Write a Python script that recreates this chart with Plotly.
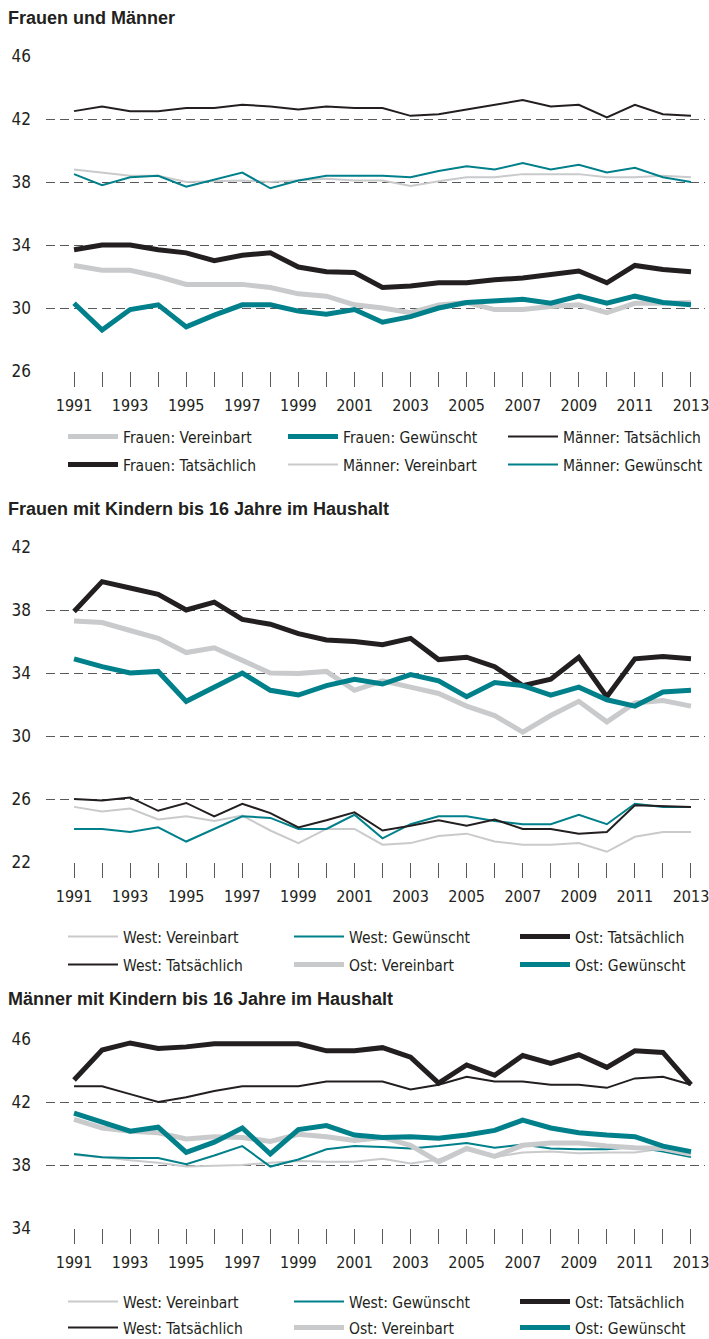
import plotly.graph_objects as go

W, H = 709, 1339

years = list(range(1991, 2014))
year_ticktext = [str(y) if (y - 1991) % 2 == 0 else "" for y in years]

# ---- Panel 1: Frauen und Männer
p1_frauen_vereinbart = [32.7, 32.4, 32.4, 32.0, 31.5, 31.5, 31.5, 31.3, 30.9, 30.75, 30.2, 30.0, 29.7, 30.2, 30.35, 29.9, 29.9, 30.1, 30.2, 29.7, 30.3, 30.3, 30.35]
p1_frauen_gewuenscht = [30.3, 28.6, 29.9, 30.2, 28.8, 29.55, 30.2, 30.2, 29.8, 29.6, 29.9, 29.1, 29.45, 30.0, 30.35, 30.45, 30.55, 30.3, 30.75, 30.3, 30.75, 30.35, 30.2]
p1_frauen_tatsaechlich = [33.7, 34.0, 34.0, 33.7, 33.5, 33.0, 33.35, 33.5, 32.6, 32.3, 32.25, 31.3, 31.4, 31.6, 31.6, 31.8, 31.9, 32.15, 32.35, 31.6, 32.7, 32.45, 32.3]
p1_maenner_tatsaechlich = [42.5, 42.8, 42.5, 42.5, 42.7, 42.7, 42.9, 42.8, 42.6, 42.8, 42.7, 42.7, 42.2, 42.3, 42.6, 42.9, 43.2, 42.8, 42.9, 42.1, 42.9, 42.3, 42.2]
p1_maenner_vereinbart = [38.8, 38.6, 38.4, 38.4, 38.0, 38.05, 38.1, 38.0, 38.1, 38.2, 38.1, 38.1, 37.75, 38.05, 38.3, 38.3, 38.5, 38.5, 38.5, 38.3, 38.3, 38.4, 38.3]
p1_maenner_gewuenscht = [38.5, 37.8, 38.3, 38.4, 37.7, 38.15, 38.6, 37.6, 38.1, 38.4, 38.4, 38.4, 38.3, 38.7, 39.0, 38.8, 39.2, 38.8, 39.1, 38.6, 38.9, 38.3, 38.0]

# ---- Panel 2: Frauen mit Kindern bis 16 Jahre im Haushalt
p2_west_vereinbart = [25.5, 25.2, 25.4, 24.7, 24.9, 24.6, 24.95, 24.0, 23.2, 24.1, 24.1, 23.1, 23.2, 23.65, 23.8, 23.3, 23.1, 23.1, 23.2, 22.65, 23.6, 23.9, 23.9]
p2_west_gewuenscht = [24.1, 24.1, 23.9, 24.2, 23.3, 24.1, 24.9, 24.8, 24.1, 24.1, 25.0, 23.5, 24.4, 24.9, 24.9, 24.6, 24.4, 24.4, 25.0, 24.4, 25.7, 25.5, 25.5]
p2_west_tatsaechlich = [26.0, 25.9, 26.1, 25.25, 25.75, 24.9, 25.7, 25.1, 24.2, 24.65, 25.15, 24.0, 24.3, 24.65, 24.3, 24.7, 24.1, 24.1, 23.8, 23.9, 25.6, 25.55, 25.5]
p2_ost_tatsaechlich = [37.9, 39.8, 39.4, 39.0, 38.0, 38.5, 37.4, 37.1, 36.5, 36.1, 36.0, 35.8, 36.2, 34.85, 35.0, 34.4, 33.2, 33.6, 35.0, 32.5, 34.9, 35.05, 34.9]
p2_ost_vereinbart = [37.3, 37.2, 36.7, 36.2, 35.3, 35.6, 34.8, 34.0, 33.97, 34.1, 32.9, 33.5, 33.1, 32.7, 31.9, 31.3, 30.25, 31.3, 32.2, 30.9, 32.1, 32.25, 31.9]
p2_ost_gewuenscht = [34.9, 34.4, 34.0, 34.1, 32.2, 33.1, 34.0, 32.9, 32.6, 33.2, 33.6, 33.3, 33.9, 33.5, 32.5, 33.4, 33.2, 32.6, 33.1, 32.3, 31.9, 32.8, 32.9]

# ---- Panel 3: Männer mit Kindern bis 16 Jahre im Haushalt
p3_west_vereinbart = [38.65, 38.5, 38.3, 38.15, 37.9, 37.95, 38.0, 38.15, 38.25, 38.2, 38.2, 38.4, 38.1, 38.35, 38.95, 38.5, 38.8, 38.85, 38.75, 38.8, 38.8, 39.05, 38.7]
p3_west_gewuenscht = [38.7, 38.5, 38.45, 38.45, 38.05, 38.6, 39.2, 37.9, 38.35, 39.0, 39.2, 39.15, 39.05, 39.2, 39.4, 39.1, 39.3, 39.05, 39.0, 39.0, 39.15, 38.85, 38.5]
p3_west_tatsaechlich = [43.0, 43.0, 42.5, 42.0, 42.3, 42.7, 43.0, 43.0, 43.0, 43.3, 43.3, 43.3, 42.8, 43.1, 43.6, 43.3, 43.3, 43.1, 43.1, 42.9, 43.5, 43.6, 43.1]
p3_ost_tatsaechlich = [43.4, 45.3, 45.75, 45.4, 45.5, 45.7, 45.7, 45.7, 45.7, 45.25, 45.25, 45.45, 44.85, 43.2, 44.35, 43.7, 44.95, 44.45, 45.0, 44.2, 45.25, 45.15, 43.1]
p3_ost_vereinbart = [40.9, 40.35, 40.15, 40.05, 39.65, 39.8, 39.75, 39.5, 39.95, 39.8, 39.55, 39.75, 39.25, 38.2, 39.05, 38.55, 39.25, 39.4, 39.4, 39.2, 39.1, 39.05, 38.7]
p3_ost_gewuenscht = [41.3, 40.7, 40.15, 40.4, 38.8, 39.45, 40.35, 38.7, 40.25, 40.5, 39.9, 39.75, 39.8, 39.7, 39.9, 40.2, 40.85, 40.35, 40.05, 39.9, 39.8, 39.2, 38.85]

panel_titles = ["Frauen und Männer",
                "Frauen mit Kindern bis 16 Jahre im Haushalt",
                "Männer mit Kindern bis 16 Jahre im Haushalt"]
p1_yticks = [26, 30, 34, 38, 42, 46]
p2_yticks = [22, 26, 30, 34, 38, 42]
p3_yticks = [34, 38, 42, 46]

BLACK = "#231f20"
TEAL = "#00808a"
GREY = "#c9cacc"
GRID = "#58595b"
THICK, THIN = 5, 2
FONT = "DejaVu Sans Condensed, Liberation Sans Narrow, sans-serif"
TITLE_FONT = "Liberation Sans, Arial, sans-serif"

panels = [
    dict(series=[("Frauen: Vereinbart", p1_frauen_vereinbart, GREY, THICK, 0),
                 ("Frauen: Gewünscht", p1_frauen_gewuenscht, TEAL, THICK, 0),
                 ("Männer: Tatsächlich", p1_maenner_tatsaechlich, BLACK, THIN, 0),
                 ("Frauen: Tatsächlich", p1_frauen_tatsaechlich, BLACK, THICK, 1),
                 ("Männer: Vereinbart", p1_maenner_vereinbart, GREY, THIN, 1),
                 ("Männer: Gewünscht", p1_maenner_gewuenscht, TEAL, THIN, 1)],
         yr=[26, 46], yticks=p1_yticks, px=(56, 371), title_y=18,
         leg_y=(437, 465), leg_text_x=123, leg_step=220),
    dict(series=[("West: Vereinbart", p2_west_vereinbart, GREY, THIN, 0),
                 ("West: Gewünscht", p2_west_gewuenscht, TEAL, THIN, 0),
                 ("Ost: Tatsächlich", p2_ost_tatsaechlich, BLACK, THICK, 0),
                 ("West: Tatsächlich", p2_west_tatsaechlich, BLACK, THIN, 1),
                 ("Ost: Vereinbart", p2_ost_vereinbart, GREY, THICK, 1),
                 ("Ost: Gewünscht", p2_ost_gewuenscht, TEAL, THICK, 1)],
         yr=[22, 42], yticks=p2_yticks, px=(547, 862), title_y=509,
         leg_y=(937, 965), leg_text_x=123, leg_step=226),
    dict(series=[("West: Vereinbart", p3_west_vereinbart, GREY, THIN, 0),
                 ("West: Gewünscht", p3_west_gewuenscht, TEAL, THIN, 0),
                 ("Ost: Tatsächlich", p3_ost_tatsaechlich, BLACK, THICK, 0),
                 ("West: Tatsächlich", p3_west_tatsaechlich, BLACK, THIN, 1),
                 ("Ost: Vereinbart", p3_ost_vereinbart, GREY, THICK, 1),
                 ("Ost: Gewünscht", p3_ost_gewuenscht, TEAL, THICK, 1)],
         yr=[34, 46], yticks=p3_yticks, px=(1039, 1228), title_y=999,
         leg_y=(1302, 1328), leg_text_x=123, leg_step=226),
]


def fx(px):
    return px / W


def fy(py):
    return 1 - py / H


layout = dict(width=W, height=H, margin=dict(l=0, r=0, t=0, b=0, autoexpand=False),
              paper_bgcolor="white", plot_bgcolor="white",
              font=dict(family=FONT, size=15, color=BLACK), annotations=[])

X0, X1 = 46, 705
ITEMW = 50
TEXTGAP = ITEMW + 10
ITEMGAP = 5
traces = []
leg_idx = 0
for i, p in enumerate(panels):
    n = "" if i == 0 else str(i + 1)
    top_px, bot_px = p["px"]
    legnames = []
    for r in range(2):
        leg_idx += 1
        lname = "legend" if leg_idx == 1 else f"legend{leg_idx}"
        legnames.append(lname)
        layout[lname] = dict(orientation="h", x=fx(p["leg_text_x"] - TEXTGAP), xanchor="left",
                             y=fy(p["leg_y"][r]), yanchor="middle",
                             entrywidth=p["leg_step"] - TEXTGAP - ITEMGAP, entrywidthmode="pixels",
                             itemwidth=ITEMW,
                             bgcolor="rgba(0,0,0,0)", borderwidth=0,
                             font=dict(family=FONT, size=15.5, color=BLACK),
                             traceorder="normal")
    for k, (name, data, color, width, row) in enumerate(p["series"]):
        traces.append(go.Scatter(x=years, y=data, mode="lines", name=name,
                                 line=dict(color=color, width=width),
                                 xaxis="x" + n, yaxis="y" + n,
                                 legend=legnames[row], legendrank=k + 1,
                                 hoverinfo="skip"))
    layout["xaxis" + n] = dict(domain=[fx(X0), fx(X1)], range=[1990, 2013.5],
                               anchor="y" + n, tickvals=years, ticktext=year_ticktext,
                               ticks="outside", ticklen=15, tickwidth=1, tickcolor=GRID,
                               showgrid=False, showline=False, zeroline=False,
                               ticklabelstandoff=5, ticklabeloverflow="allow",
                               tickfont=dict(family=FONT, size=16, color=BLACK))
    layout["yaxis" + n] = dict(domain=[fy(bot_px), fy(top_px)], range=p["yr"], anchor="x" + n,
                               tickvals=p["yticks"], showgrid=True, gridcolor=GRID,
                               gridwidth=1.2, griddash="9px,5px", zeroline=False,
                               showline=False, ticks="", ticklabelstandoff=14,
                               ticklabeloverflow="allow",
                               tickfont=dict(family=FONT, size=17, color=BLACK))
    layout["annotations"].append(dict(text="<b>" + panel_titles[i] + "</b>", x=fx(6), y=fy(p["title_y"]),
                                      xref="paper", yref="paper", xanchor="left", yanchor="middle",
                                      showarrow=False,
                                      font=dict(family=TITLE_FONT, size=18, color=BLACK)))

# draw thin lines first so thick lines are on top
fig = go.Figure()
for t in sorted(traces, key=lambda t: t.line.width):
    fig.add_trace(t)
fig.update_layout(**layout)
fig.write_html("out.html", config={"displayModeBar": False},
               post_script="document.body.style.margin='0px';document.body.style.overflow='hidden';")
